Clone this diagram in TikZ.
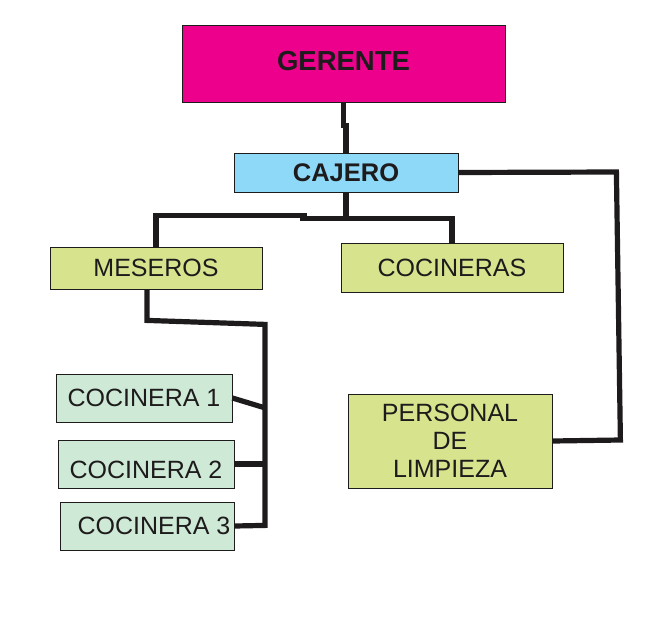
\documentclass[tikz,border=0pt]{standalone}
\usepackage{fontspec}
\setmainfont{Liberation Sans}

\definecolor{gerenteMag}{RGB}{236,0,140}
\definecolor{cajeroAzul}{RGB}{143,217,248}
\definecolor{puestoVerde}{RGB}{215,227,141}
\definecolor{cocinaMenta}{RGB}{206,234,214}
\definecolor{tinta}{RGB}{30,27,28}

\begin{document}
\begin{tikzpicture}[x=1pt, y=-1pt,
    caja/.style={draw=tinta, line width=0.8pt, text=tinta, inner sep=0pt,
      align=center, font=\fontsize{25}{28}\selectfont},
    conn/.style={draw=tinta, line width=5.2pt}]

  \useasboundingbox (0,0) rectangle (648,630);

  \node[caja, fill=gerenteMag, minimum width=323pt, minimum height=77pt, text height=20pt, text depth=6pt,
    font=\bfseries\fontsize{27.5}{28}\selectfont] (gerente) at (343.5,63.5) {GERENTE};
  \node[caja, fill=cajeroAzul, minimum width=224pt, minimum height=39pt,
    font=\bfseries\fontsize{25.5}{28}\selectfont] (cajero) at (346,172.5) {CAJERO};

  \node[caja, fill=puestoVerde, minimum width=212pt, minimum height=42pt] (meseros) at (156,268) {MESEROS};
  \node[caja, fill=puestoVerde, minimum width=222pt, minimum height=49pt] (cocineras) at (452,267.5) {COCINERAS};
  \node[caja, fill=puestoVerde, minimum width=204pt, minimum height=94pt] (personal) at (450,441) {PERSONAL\\DE\\LIMPIEZA};

  \node[caja, fill=cocinaMenta, minimum width=176pt, minimum height=48pt] (cocinera1) at (144,398) {COCINERA 1};
  \node[caja, fill=cocinaMenta, minimum width=176pt, minimum height=48pt, text height=30pt, text depth=2pt] (cocinera2) at (146,464) {COCINERA 2};
  \node[caja, fill=cocinaMenta, minimum width=174pt, minimum height=48pt] (cocinera3) at (147,526) {\hspace*{14pt}COCINERA 3};

  \draw[conn] (gerente.south) -- ++(0,23) -- ++(2.5,0) -- (cajero.north); %% gerente->cajero

  \draw[conn] (cajero.south) -- ++(0,26);
  \draw[conn] ([xshift=-46pt,yshift=-26pt]cajero.south) -| (cocineras.north); %% cajero->cocineras
  \draw[conn] (meseros.north) |- ++(151,-31); %% cajero->meseros

  \draw[conn] ([xshift=-9pt]meseros.south) -- ++(0,31) -- ++(118,4) -- ++(0,201) -- (cocinera3.east);
  \draw[conn] (cocinera1.east) -- ++(33,10);
  \draw[conn] (cocinera2.east) -- ++(31,0);

  \draw[conn] (personal.east) -- ++(68,-1) -- ++(-4,-268) -- (cajero.east); %% personal->cajero
\end{tikzpicture}
\end{document}
